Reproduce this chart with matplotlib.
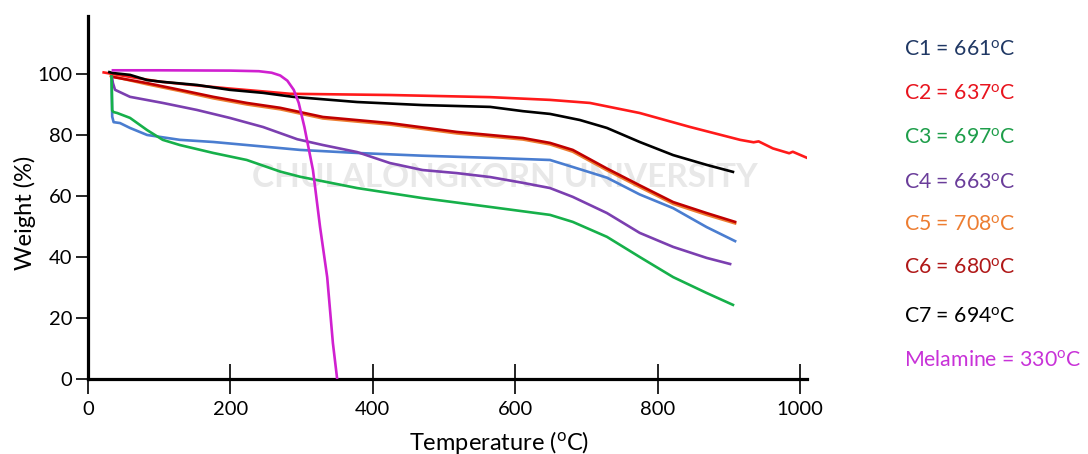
import matplotlib
matplotlib.use("Agg")
import matplotlib.pyplot as plt

plt.rcParams['font.family'] = ['Lato', 'DejaVu Sans']
plt.rcParams['mathtext.fontset'] = 'custom'
plt.rcParams['mathtext.rm'] = 'Lato'
plt.rcParams['mathtext.it'] = 'Lato'

# ---- data ----
mel_T = [35, 100, 200, 240, 258, 270, 280, 289, 296, 304, 316, 326, 336, 344, 350]
mel_W = [101.2, 101.2, 101.1, 100.9, 100.4, 99.5, 97.8, 94.8, 90.5, 82.6, 68.5, 49.8, 33.4, 11.8, 0]

c7_T = [30, 35, 59, 83, 105, 153, 199, 246, 288, 378, 470, 565, 611, 649, 691, 729, 775, 822, 869, 906]
c7_W = [100.6, 100.3, 99.7, 98.0, 97.4, 96.4, 94.8, 93.8, 92.5, 90.8, 89.8, 89.2, 87.8, 86.9, 84.9, 82.3, 77.7, 73.4, 70.2, 67.9]

c2_T = [22, 60, 100, 150, 200, 250, 284, 424, 565, 649, 705, 775, 846, 916, 935, 942, 962, 985, 990, 1010]
c2_W = [100.5, 99.0, 97.5, 96.3, 95.2, 94.2, 93.5, 93.1, 92.4, 91.5, 90.5, 87.2, 82.6, 78.4, 77.6, 77.9, 75.6, 74.0, 74.5, 72.5]

c6_T = [35, 83, 129, 176, 223, 270, 330, 424, 518, 611, 649, 681, 729, 775, 822, 869, 909]
c6_W = [99.0, 97.0, 94.8, 92.5, 90.5, 88.9, 85.9, 83.9, 81.0, 79.0, 77.4, 75.1, 69.0, 63.5, 58.0, 54.4, 51.5]

c5_T = [32, 83, 129, 176, 223, 270, 330, 424, 518, 611, 649, 681, 729, 775, 822, 869, 909]
c5_W = [99.3, 96.6, 94.4, 92.0, 90.0, 88.4, 85.4, 83.4, 80.5, 78.5, 76.9, 74.5, 68.4, 62.9, 57.4, 53.8, 51.0]

c1_T = [33, 34, 36, 45, 59, 83, 129, 176, 223, 270, 298, 378, 470, 565, 649, 681, 729, 775, 822, 869, 909]
c1_W = [100, 86, 84.2, 83.9, 82.3, 80.0, 78.4, 77.7, 76.7, 75.7, 75.1, 74.1, 73.2, 72.5, 71.8, 69.5, 66.0, 60.5, 56.0, 49.8, 45.2]

c4_T = [33, 35, 38, 59, 105, 153, 199, 246, 294, 330, 378, 424, 470, 518, 565, 611, 649, 681, 729, 775, 822, 869, 902]
c4_W = [100, 97, 94.8, 92.5, 90.5, 88.2, 85.6, 82.6, 78.6, 76.7, 74.4, 70.8, 68.5, 67.5, 66.2, 64.3, 62.6, 59.7, 54.4, 47.9, 43.3, 39.7, 37.7]

c3_T = [33, 34, 36, 41, 59, 83, 105, 129, 176, 223, 270, 298, 378, 470, 565, 649, 681, 729, 775, 822, 869, 906]
c3_W = [100, 88, 87.5, 87.2, 85.6, 81.6, 78.4, 76.7, 74.1, 71.8, 68.0, 66.3, 62.6, 59.3, 56.4, 53.8, 51.5, 46.6, 40.0, 33.4, 28.2, 24.3]

legend_labels = ["C1 = 661", "C2 = 637", "C3 = 697", "C4 = 663",
                 "C5 = 708", "C6 = 680", "C7 = 694", "Melamine = 330"]
legend_colors = ["#203864", "#e8141e", "#1e9e4a", "#6a3d9a",
                 "#ed7d31", "#b01818", "#000000", "#c832d8"]

xticks = [0, 200, 400, 600, 800, 1000]
yticks = [0, 20, 40, 60, 80, 100]

# ---- figure ----
fig = plt.figure(figsize=(10.88, 4.54), dpi=100)
ax = fig.add_axes([88/1088, 75/454, (807-88)/1088, (379-16)/454])

# faint watermark
ax.text(586, 66, "CHULALONGKORN UNIVERSITY", color="#e8e8e8", fontsize=24,
        fontweight='bold', ha='center', va='center', zorder=0)

lw = 1.9
ax.plot(c5_T, c5_W, color="#ed7d31", lw=lw, zorder=2)
ax.plot(c6_T, c6_W, color="#c00000", lw=lw, zorder=3)
ax.plot(c1_T, c1_W, color="#4a7dd0", lw=lw, zorder=3)
ax.plot(c4_T, c4_W, color="#7b3fb0", lw=lw, zorder=3)
ax.plot(c3_T, c3_W, color="#16b04a", lw=lw, zorder=3)
ax.plot(c2_T, c2_W, color="#ff1a1a", lw=lw, zorder=4)
ax.plot(c7_T, c7_W, color="#000000", lw=lw, zorder=5)
ax.plot(mel_T, mel_W, color="#d020d0", lw=lw, zorder=6)

ax.set_xlim(0, 1010)
ax.set_ylim(0, 119)
ax.set_xticks(xticks)
ax.set_yticks(yticks)
for s in ['top', 'right']:
    ax.spines[s].set_visible(False)
for s in ['left', 'bottom']:
    ax.spines[s].set_linewidth(2.3)
ax.tick_params(axis='y', direction='out', length=8.5, width=1.2, labelsize=14.5, pad=3)
ax.tick_params(axis='x', direction='inout', length=21, width=1.2, labelsize=14.5, pad=5)

ax.set_xlabel(r"Temperature ($^{\mathrm{o}}$C)", fontsize=17)
ax.xaxis.set_label_coords((499 - 88) / 719, -(442 - 379) / 363)
ax.xaxis.label.set_va('center')
ax.set_ylabel("Weight (%)", fontsize=17)
ax.yaxis.set_label_coords(-(88 - 25) / 719, (379 - 213) / 363)
ax.yaxis.label.set_va('center')

ys = [50, 94, 138, 183, 225, 268, 317, 360]
for lab, col, y in zip(legend_labels, legend_colors, ys):
    fig.text(904/1088, 1 - y/454, lab + r"$^{\mathrm{o}}$C", color=col,
             fontsize=15.3, ha='left', va='center')

fig.savefig("out.png", dpi=100)
